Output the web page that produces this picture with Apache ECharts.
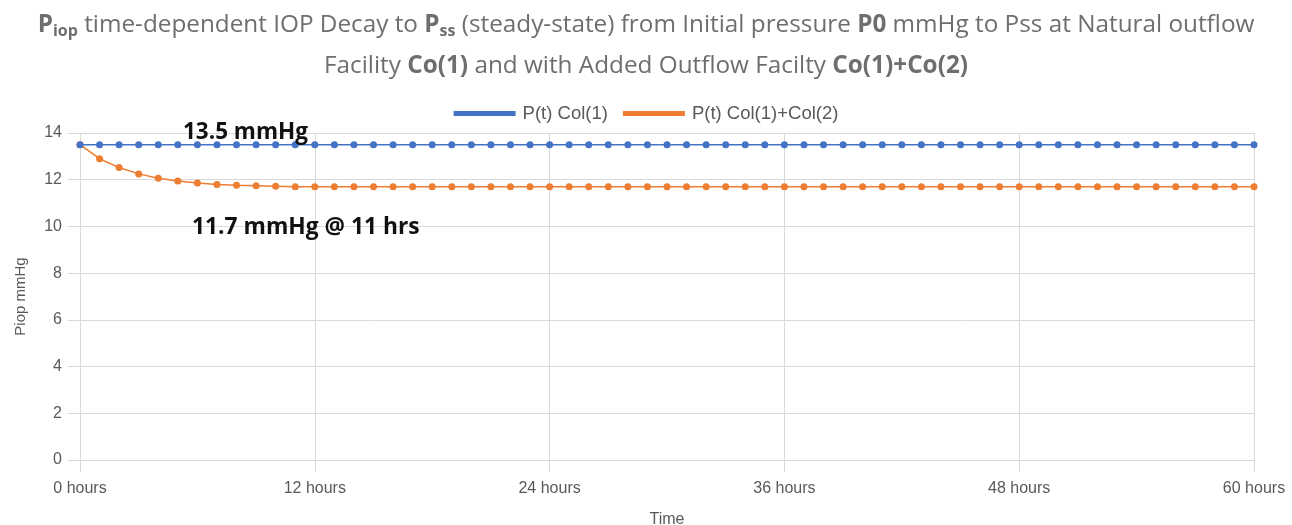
<!DOCTYPE html>
<html>
<head>
<meta charset="utf-8">
<script src="https://cdn.jsdelivr.net/npm/echarts@6/dist/echarts.min.js"></script>
<style>
  html, body { margin: 0; padding: 0; background: #fff; }
  #chart { width: 1292px; height: 525px; }
</style>
</head>
<body>
<div id="chart"></div>
<script>
// Time in hours (one sample per hour)
const hours = [0, 1, 2, 3, 4, 5, 6, 7, 8, 9, 10, 11, 12, 13, 14, 15, 16, 17, 18, 19, 20,
  21, 22, 23, 24, 25, 26, 27, 28, 29, 30, 31, 32, 33, 34, 35, 36, 37, 38, 39, 40,
  41, 42, 43, 44, 45, 46, 47, 48, 49, 50, 51, 52, 53, 54, 55, 56, 57, 58, 59, 60];

// P(t) with natural outflow facility Co(1): stays at 13.5 mmHg
const pCol1 = [13.5, 13.5, 13.5, 13.5, 13.5, 13.5, 13.5, 13.5, 13.5, 13.5, 13.5,
  13.5, 13.5, 13.5, 13.5, 13.5, 13.5, 13.5, 13.5, 13.5, 13.5,
  13.5, 13.5, 13.5, 13.5, 13.5, 13.5, 13.5, 13.5, 13.5, 13.5,
  13.5, 13.5, 13.5, 13.5, 13.5, 13.5, 13.5, 13.5, 13.5, 13.5,
  13.5, 13.5, 13.5, 13.5, 13.5, 13.5, 13.5, 13.5, 13.5, 13.5,
  13.5, 13.5, 13.5, 13.5, 13.5, 13.5, 13.5, 13.5, 13.5, 13.5];

// P(t) with added outflow facility Co(1)+Co(2): decays toward 11.7 mmHg
const pCol12 = [13.5, 12.9, 12.52, 12.25, 12.06, 11.94, 11.86, 11.8, 11.76, 11.74, 11.72,
  11.7, 11.7, 11.7, 11.7, 11.7, 11.7, 11.7, 11.7, 11.7, 11.7,
  11.7, 11.7, 11.7, 11.7, 11.7, 11.7, 11.7, 11.7, 11.7, 11.7,
  11.7, 11.7, 11.7, 11.7, 11.7, 11.7, 11.7, 11.7, 11.7, 11.7,
  11.7, 11.7, 11.7, 11.7, 11.7, 11.7, 11.7, 11.7, 11.7, 11.7,
  11.7, 11.7, 11.7, 11.7, 11.7, 11.7, 11.7, 11.7, 11.7, 11.7];

const seriesNames = ['P(t) Col(1)', 'P(t) Col(1)+Col(2)'];
const annotations = ['13.5 mmHg', '11.7 mmHg @ 11 hrs'];

const chart = echarts.init(document.getElementById('chart'), null, { renderer: 'canvas' });

const titleFont = '"Open Sans", sans-serif';
const titleColor = '#6e6e6e';
const titleSize = 24.3;
const axisFont = '"Liberation Sans", Arial, sans-serif';
const gridColor = '#d9d9d9';

const option = {
  backgroundColor: '#ffffff',
  animation: false,
  title: {
    text: '{b|P}{bs|iop}{n| time-dependent IOP Decay to }{b|P}{bs|ss}{n| (steady-state) from Initial pressure }{b|P0}{n| mmHg to Pss at Natural outflow}\n' +
          '{n|Facility }{b|Co(1)}{n| and with Added Outflow Facilty }{b|Co(1)+Co(2)}',
    left: 'center',
    top: 0,
    textStyle: {
      fontFamily: titleFont,
      fontSize: titleSize,
      fontWeight: 'normal',
      lineHeight: 41,
      color: titleColor,
      rich: {
        n: { fontFamily: titleFont, fontSize: titleSize, fontWeight: 'normal', color: titleColor, lineHeight: 41 },
        b: { fontFamily: titleFont, fontSize: titleSize, fontWeight: 'bold', color: titleColor, lineHeight: 41 },
        bs: { fontFamily: titleFont, fontSize: 16, fontWeight: 'bold', color: titleColor, lineHeight: 41, padding: [11, 0, 0, 0] }
      }
    }
  },
  legend: {
    data: seriesNames,
    top: 99,
    left: 'center',
    itemWidth: 62,
    itemHeight: 5,
    itemGap: 15,
    icon: 'rect',
    textStyle: { fontFamily: axisFont, fontSize: 18.5, color: '#595959', padding: [0, 0, 0, 2] }
  },
  grid: { left: 80, right: 38, top: 133, bottom: 65, containLabel: false, outerBoundsMode: 'none' },
  xAxis: {
    type: 'value',
    min: 0,
    max: 60,
    interval: 12,
    name: 'Time',
    nameLocation: 'middle',
    nameGap: 52,
    nameTextStyle: { fontFamily: axisFont, fontSize: 16, color: '#595959' },
    axisLine: { show: true, lineStyle: { color: gridColor, width: 1 } },
    axisTick: { show: true, length: 12, lineStyle: { color: gridColor } },
    axisLabel: {
      margin: 21,
      fontFamily: axisFont,
      fontSize: 16,
      color: '#595959',
      formatter: v => v + ' hours'
    },
    splitLine: { show: true, lineStyle: { color: gridColor, width: 1 } }
  },
  yAxis: {
    type: 'value',
    min: 0,
    max: 14,
    interval: 2,
    name: 'Piop mmHg',
    nameLocation: 'middle',
    nameGap: 52,
    nameRotate: 90,
    nameTextStyle: { fontFamily: axisFont, fontSize: 15, color: '#595959' },
    axisLine: { show: true, lineStyle: { color: gridColor, width: 1 } },
    axisTick: { show: true, length: 12, lineStyle: { color: gridColor } },
    axisLabel: { margin: 18, fontFamily: axisFont, fontSize: 16, color: '#595959' },
    splitLine: { show: true, lineStyle: { color: gridColor, width: 1 } }
  },
  series: [
    {
      name: seriesNames[0],
      type: 'line',
      data: hours.map((h, i) => [h, pCol1[i]]),
      color: '#4472C4',
      symbol: 'circle',
      symbolSize: 7,
      lineStyle: { width: 1.5, color: '#4472C4' },
      itemStyle: { color: '#4472C4' },
      z: 3
    },
    {
      name: seriesNames[1],
      type: 'line',
      data: hours.map((h, i) => [h, pCol12[i]]),
      color: '#ED7D31',
      symbol: 'circle',
      symbolSize: 7,
      lineStyle: { width: 1.5, color: '#ED7D31' },
      itemStyle: { color: '#ED7D31' },
      z: 2
    }
  ],
  graphic: [
    {
      type: 'text',
      left: 183,
      top: 121,
      style: { text: annotations[0], font: 'bold 22.5px "Open Sans", sans-serif', fill: '#111111' },
      z: 10
    },
    {
      type: 'text',
      left: 192,
      top: 216,
      style: { text: annotations[1], font: 'bold 22.8px "Open Sans", sans-serif', fill: '#111111' },
      z: 10
    }
  ]
};

chart.setOption(option);
</script>
</body>
</html>
